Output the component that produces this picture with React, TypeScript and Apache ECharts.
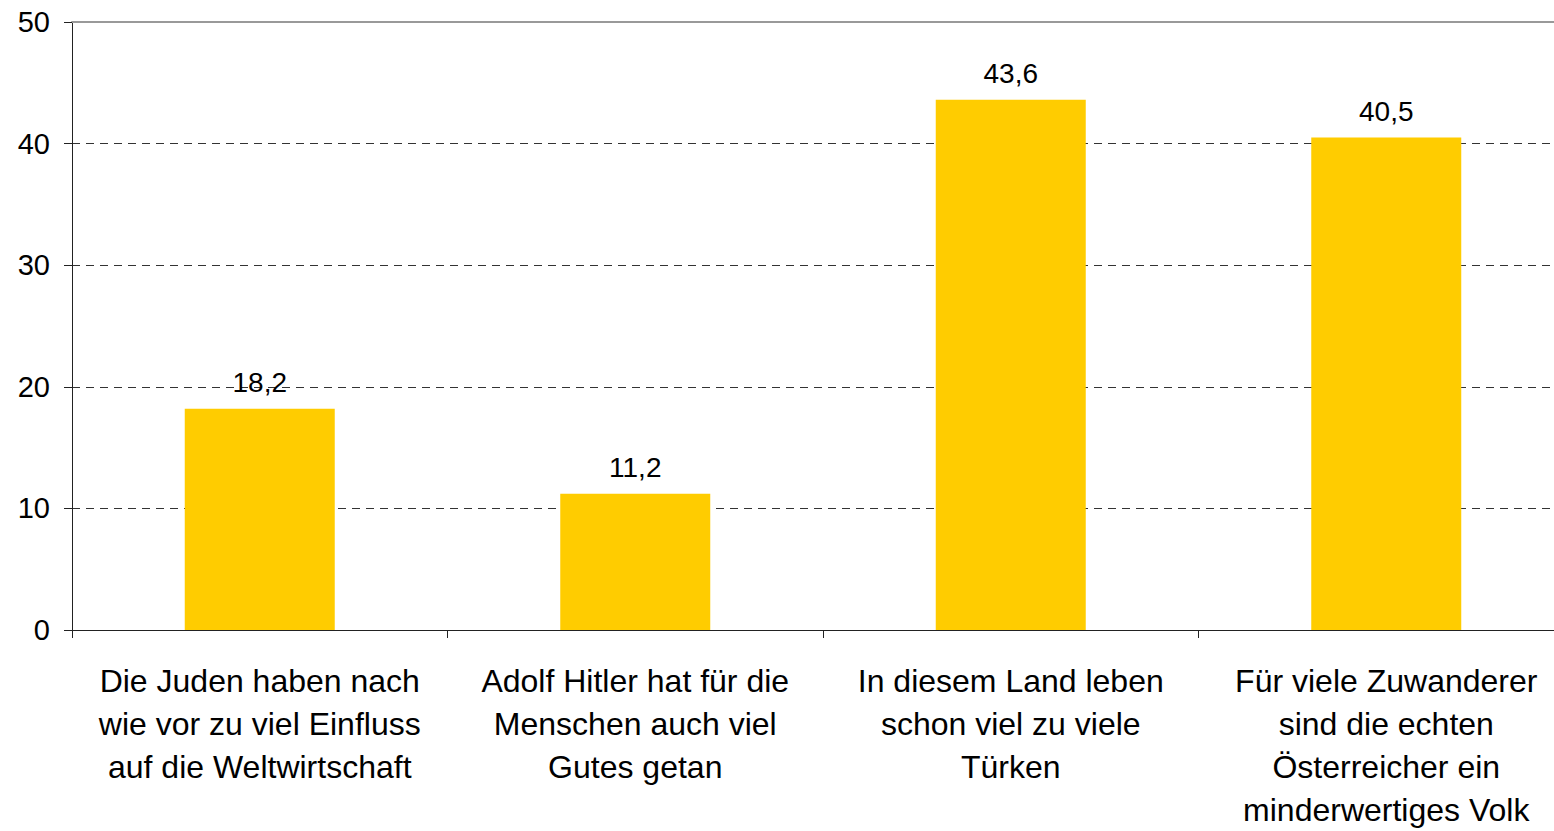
import React, { useEffect, useRef } from "react";
import * as echarts from "echarts";

const categories = [
  "Die Juden haben nach\nwie vor zu viel Einfluss\nauf die Weltwirtschaft",
  "Adolf Hitler hat für die\nMenschen auch viel\nGutes getan",
  "In diesem Land leben\nschon viel zu viele\nTürken",
  "Für viele Zuwanderer\nsind die echten\nÖsterreicher ein\nminderwertiges Volk",
];
const values = [18.2, 11.2, 43.6, 40.5];
const yTicks = { min: 0, max: 50, interval: 10 };

const FONT = "'Liberation Sans', Arial, sans-serif";

export default function App() {
  const ref = useRef<HTMLDivElement>(null);
  useEffect(() => {
    if (!ref.current) return;
    const chart = echarts.init(ref.current, undefined, { renderer: "svg" });
    chart.setOption({
      animation: false,
      textStyle: { fontFamily: FONT },
      grid: { left: 72, top: 22, width: 1502, height: 616, containLabel: false },
      xAxis: [
        {
          type: "category",
          data: categories,
          axisLine: { lineStyle: { color: "#222", width: 1 } },
          axisTick: { show: true, length: 8, lineStyle: { color: "#222" } },
          axisLabel: {
            interval: 0,
            color: "#000",
            fontSize: 32,
            lineHeight: 43,
            margin: 29,
            fontFamily: FONT,
          },
        },
        {
          type: "category",
          data: categories,
          position: "top",
          axisLine: { show: true, lineStyle: { color: "#999", width: 2 } },
          axisTick: { show: false },
          axisLabel: { show: false },
        },
      ],
      yAxis: {
        type: "value",
        min: yTicks.min,
        max: yTicks.max,
        interval: yTicks.interval,
        axisLine: { show: true, lineStyle: { color: "#222", width: 1 } },
        axisTick: { show: true, length: 8, lineStyle: { color: "#222" } },
        axisLabel: { color: "#000", fontSize: 29, margin: 22, fontFamily: FONT },
        splitLine: {
          show: true,
          showMaxLine: false,
          showMinLine: false,
          lineStyle: { color: "#333", type: [8, 6], width: 1 },
        },
      },
      series: [
        {
          type: "bar",
          data: values,
          barWidth: 150,
          itemStyle: { color: "#FFCC00" },
          label: {
            show: true,
            position: "top",
            distance: 12,
            color: "#000",
            fontSize: 28,
            fontFamily: FONT,
            formatter: (p: any) => String(p.value).replace(".", ","),
          },
        },
      ],
    });
    return () => chart.dispose();
  }, []);
  return (
    <div
      ref={ref}
      style={{ position: "fixed", left: 0, top: 0, width: 1600, height: 831, background: "#fff" }}
    />
  );
}
